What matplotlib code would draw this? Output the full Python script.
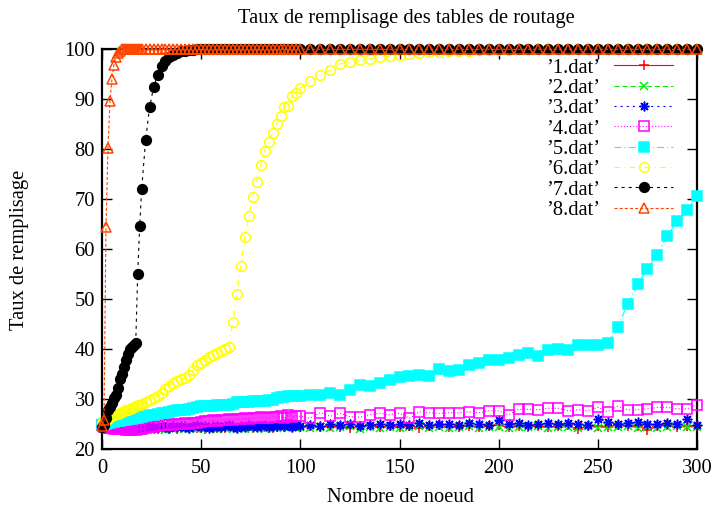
import matplotlib
matplotlib.use('Agg')
from matplotlib import pyplot as plt

plt.rcParams['font.family'] = 'Liberation Serif'
plt.rcParams['font.size'] = 14.8
plt.rcParams['lines.scale_dashes'] = False

# x values (number of nodes) shared by every file
xs = list(range(0, 21)) + list(range(22, 101, 2)) + list(range(105, 301, 5))

# fill rate of the routing tables, one list per .dat file
s1 = [24.6, 24.3, 24.2, 24.4, 24.1, 24.3, 24.2, 24.0, 24.3, 24.1, 24.2, 24.0, 24.3, 24.1, 24.2, 24.4, 24.1, 24.3, 24.0, 24.2, 24.3,
      24.1, 24.4, 24.2, 24.0, 24.3, 24.5, 24.2, 24.4, 24.1, 24.3, 24.6, 24.2, 24.4, 24.3, 24.5, 24.1, 24.4, 24.6, 24.3, 24.5,
      24.2, 24.4, 24.7, 24.3, 24.5, 24.4, 24.6, 24.2, 24.5, 24.7, 24.4, 24.6, 24.3, 24.5, 24.8, 24.4, 24.6, 24.5, 24.7, 24.4,
      24.6, 24.4, 24.7, 24.5, 24.3, 24.6, 24.8, 24.4, 24.6, 24.5, 24.7, 24.3, 24.6, 24.8, 24.5, 24.4, 24.7, 24.5, 24.6, 24.8,
      24.4, 24.6, 24.5, 24.7, 24.5, 24.6, 24.8, 24.0, 24.6, 24.7, 24.5, 24.8, 24.6, 24.7, 23.8, 24.6, 24.8, 24.5, 24.7, 24.6]
s2 = [24.5, 24.2, 24.4, 24.1, 24.3, 24.0, 24.2, 24.4, 24.1, 24.3, 24.0, 24.2, 24.4, 24.1, 23.9, 24.2, 24.3, 24.0, 24.2, 24.1, 24.3,
      24.3, 24.0, 24.2, 24.4, 24.1, 23.9, 24.3, 24.1, 24.4, 24.2, 24.0, 24.3, 24.5, 24.1, 24.2, 24.4, 24.0, 24.3, 24.1, 24.4,
      24.2, 24.5, 24.1, 24.3, 24.4, 24.0, 24.3, 24.5, 24.2, 24.4, 24.1, 24.3, 24.5, 24.2, 24.4, 24.6, 24.2, 24.4, 24.3, 24.5,
      24.3, 24.5, 24.2, 24.4, 24.6, 24.1, 24.4, 24.3, 24.5, 24.2, 24.4, 24.6, 24.3, 24.5, 24.2, 24.4, 24.6, 24.3, 24.5, 24.4,
      24.2, 24.5, 24.4, 24.6, 24.3, 24.5, 24.4, 24.2, 24.6, 24.3, 24.5, 24.4, 24.6, 24.3, 24.5, 24.2, 24.4, 24.6, 24.4, 24.5]
s3 = [24.6, 24.4, 24.5, 24.2, 24.4, 24.3, 24.5, 24.2, 24.4, 24.6, 24.3, 24.5, 24.2, 24.4, 24.3, 24.6, 24.4, 24.2, 24.5, 24.3, 24.5,
      24.4, 24.6, 24.3, 24.5, 24.7, 24.4, 24.2, 24.6, 24.4, 24.7, 24.5, 24.3, 24.6, 24.8, 24.4, 24.6, 24.3, 24.5, 24.7, 24.4,
      24.6, 24.8, 24.5, 24.3, 24.7, 24.5, 24.8, 24.6, 24.4, 24.7, 24.9, 24.5, 24.7, 24.6, 24.9, 24.6, 24.8, 24.5, 24.9, 24.7,
      24.9, 24.7, 25.0, 24.8, 25.1, 24.7, 24.9, 25.0, 24.8, 25.1, 24.9, 25.2, 24.8, 25.0, 25.1, 24.9, 25.2, 25.0, 24.9, 25.8,
      25.0, 25.3, 24.9, 25.1, 25.2, 25.0, 25.3, 25.1, 24.9, 26.1, 25.4, 25.0, 25.2, 25.5, 25.1, 25.0, 25.3, 25.1, 26.0, 24.9]
s4 = [24.8, 24.5, 24.4, 24.3, 24.2, 24.2, 24.1, 24.1, 24.0, 24.0, 24.0, 24.0, 23.9, 23.9, 23.9, 23.9, 24.0, 23.9, 24.0, 24.1, 24.0,
      24.2, 24.5, 24.4, 24.7, 24.9, 24.8, 25.0, 24.9, 25.1, 25.0, 25.2, 25.1, 25.3, 25.2, 25.4, 25.6, 25.7, 25.8, 25.6, 25.9,
      25.8, 26.0, 25.9, 26.1, 26.0, 26.2, 26.0, 26.3, 26.2, 26.4, 26.3, 26.2, 26.5, 26.4, 26.6, 26.3, 26.8, 26.5, 26.7, 26.6,
      26.2, 27.3, 26.6, 27.2, 26.5, 26.4, 26.9, 27.2, 26.9, 27.2, 26.2, 27.5, 27.3, 27.2, 27.3, 27.3, 27.5, 27.3, 27.7, 27.7,
      26.9, 28.0, 28.0, 27.9, 28.2, 28.2, 27.7, 27.9, 27.7, 28.4, 27.5, 28.6, 27.9, 27.9, 28.1, 28.4, 28.4, 28.1, 28.1, 28.9]
s5 = [24.8, 25.0, 25.1, 25.2, 25.3, 25.4, 25.5, 25.6, 25.6, 25.7, 25.8, 25.9, 25.9, 26.0, 26.1, 26.1, 26.2, 26.3, 26.3, 26.4, 26.5,
      26.6, 26.8, 26.9, 27.1, 27.2, 27.3, 27.4, 27.6, 27.8, 27.8, 27.9, 28.0, 28.3, 28.5, 28.6, 28.6, 28.7, 28.7, 28.8, 28.8,
      28.9, 28.9, 29.1, 29.4, 29.4, 29.5, 29.5, 29.6, 29.6, 29.7, 29.7, 29.8, 29.9, 30.3, 30.5, 30.5, 30.6, 30.6, 30.6, 30.7,
      30.8, 30.9, 31.2, 30.9, 31.8, 32.9, 32.7, 33.2, 33.9, 34.4, 34.6, 34.9, 34.7, 36.0, 35.6, 35.9, 36.9, 37.2, 37.8, 37.9,
      38.2, 38.9, 39.2, 38.7, 39.9, 40.1, 39.8, 40.9, 40.8, 40.9, 41.2, 44.4, 49.0, 53.1, 56.1, 58.9, 62.7, 65.6, 67.8, 70.6]
s6 = [25.2, 25.5, 25.7, 26.0, 26.4, 26.6, 26.8, 27.0, 27.1, 27.3, 27.4, 27.6, 27.8, 27.9, 28.1, 28.3, 28.5, 28.7, 28.8, 28.9, 29.1,
      29.5, 29.9, 30.3, 30.7, 31.2, 32.0, 32.7, 33.3, 33.7, 34.1, 34.2, 34.8, 35.9, 36.9, 37.3, 37.9, 38.5, 38.8, 39.3, 39.7,
      40.1, 40.5, 45.4, 51.0, 56.7, 62.5, 66.7, 70.4, 73.5, 76.8, 79.7, 81.4, 83.3, 85.0, 86.6, 88.5, 88.7, 90.7, 91.3, 92.3,
      93.7, 94.8, 95.8, 97.1, 97.4, 97.8, 98.1, 98.4, 98.6, 98.9, 99.1, 99.2, 99.4, 99.5, 99.6, 99.7, 99.7, 99.8, 99.8, 99.9,
      99.9] + [100.0] * 19
s7 = [24.5, 24.8, 26.3, 27.8, 28.5, 29.2, 30.2, 30.8, 32.2, 34.0, 35.1, 36.5, 37.8, 39.1, 40.1, 40.5, 40.9, 41.2, 55.1, 64.6, 72.0,
      81.9, 88.4, 92.4, 94.8, 96.6, 97.6, 98.4, 98.9, 99.3, 99.6, 99.7, 99.8, 99.9] + [100.0] * 67
s8 = [24.6, 25.8, 64.5, 80.2, 89.6, 94.0, 96.9, 98.5, 99.3, 99.7] + [100.0] * 91

labels = ["\u20191.dat\u2019", "\u20192.dat\u2019", "\u20193.dat\u2019", "\u20194.dat\u2019",
          "\u20195.dat\u2019", "\u20196.dat\u2019", "\u20197.dat\u2019", "\u20198.dat\u2019"]
series = [s1, s2, s3, s4, s5, s6, s7, s8]

colors = ['#ff0000', '#00ee00', '#0000ff', '#ff00ff', '#00ffff', '#ffff00', '#000000', '#ff4500']
dashes = [None, (3.6, 2.2), (1.5, 2.9), (0.75, 1.5), (5, 2.2, 0.8, 2.2), (4.3, 2.9, 0.8, 2.9), (2.2, 2.9), (2.2, 1.5)]
markers = ['+', 'x', (8, 2, 0), 's', 's', 'o', 'o', '^']
msizes = [7, 6, 7, 6.5, 7.2, 7, 7, 7]
filled = [True, True, True, False, True, False, True, False]

fig = plt.figure(figsize=(7.17, 5.11), dpi=100)
ax = fig.add_axes([102 / 717, 1 - 449.3 / 511, 595 / 717, 400 / 511])

for i in range(8):
    ln, = ax.plot(xs, series[i], color=colors[i], lw=0.8, marker=markers[i], ms=msizes[i],
                  mew=1.1, mfc=colors[i] if filled[i] else 'none', mec=colors[i],
                  label=labels[i], clip_on=False, zorder=3 + i)
    if dashes[i] is not None:
        ln.set_dashes(dashes[i])

ax.set_xlim(0, 300)
ax.set_ylim(20, 100)
ax.set_xticks(range(0, 301, 50))
ax.set_yticks(range(20, 101, 10))
ax.tick_params(direction='in', length=7, width=1, top=True, right=True, labelsize=14.8)
ax.tick_params(axis='x', pad=7)
ax.tick_params(axis='y', pad=5)
for sp in ax.spines.values():
    sp.set_linewidth(1.6)

fig.text(406 / 717, 1 - 18 / 511, 'Taux de remplisage des tables de routage', ha='center', va='center')
fig.text(400 / 717, 1 - 497 / 511, 'Nombre de noeud', ha='center', va='center')
fig.text(20 / 717, 1 - 250 / 511, 'Taux de remplisage', ha='center', va='center', rotation=90)

leg = ax.legend(loc='upper right', bbox_to_anchor=(0.9597, 0.9775), markerfirst=False, frameon=False,
                handlelength=2.85, handletextpad=0.7, labelspacing=0.045, borderaxespad=0, borderpad=0)
leg.set_zorder(20)

plt.savefig('out.png', dpi=100)
